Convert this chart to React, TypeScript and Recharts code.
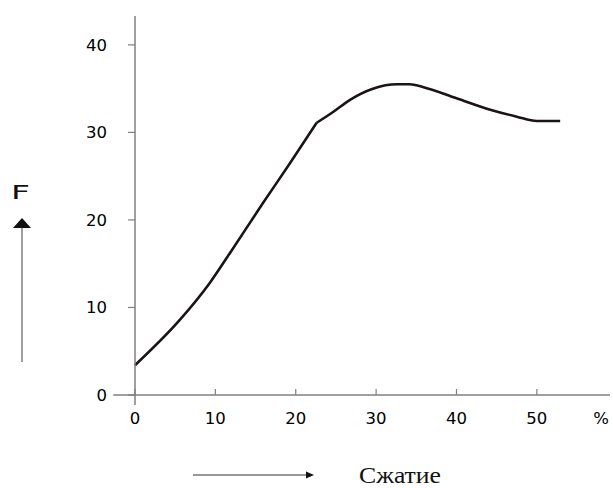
import { LineChart, Line, XAxis, YAxis, ReferenceLine } from 'recharts';

// compression, % (x) and force F (y)
const compression = [0, 5.6, 9.3, 11.8, 15.9, 19.3, 22.6, 24.6, 26.7, 29.6, 32.6, 34.2, 35.8, 40.0, 44.2, 47.5, 50.0, 52.9];
const force = [3.4, 8.6, 12.8, 16.2, 21.9, 26.5, 31.1, 32.3, 33.7, 35.0, 35.5, 35.5, 35.2, 33.9, 32.6, 31.8, 31.3, 31.3];
// the curve has a corner here: rising part and hump are drawn as two pieces
const kinkIndex = 6;

const xTicks = [0, 10, 20, 30, 40, 50, 58];
const xTickLabels = ['0', '10', '20', '30', '40', '50', '%'];
const yTicks = [0, 10, 20, 30, 40];

const xDomain = [0, 59.1];
const yDomain = [0, 43.3];

const data = compression.map((x, i) => ({
  x,
  rise: i <= kinkIndex ? force[i] : null,
  hump: i >= kinkIndex ? force[i] : null,
}));

const AXIS = '#7f7f7f';
const CURVE = '#1a1414';
const FONT = '"DejaVu Sans", sans-serif';

const XTick = ({ x, y, payload }: any) => {
  const label = xTickLabels[xTicks.indexOf(payload.value)] ?? String(payload.value);
  const isUnit = label === '%';
  return (
    <g>
      {!isUnit && <line x1={x} y1={y} x2={x} y2={y - 6} stroke={AXIS} strokeWidth={1.2} />}
      <text x={x} y={y + 29} textAnchor="middle" fontSize={16.5} fontFamily={FONT} fill="#000">
        {label}
      </text>
    </g>
  );
};

export default function App() {
  return (
    <div style={{ position: 'absolute', left: 0, top: 0, width: 613, height: 488, background: '#fff' }}>
      <LineChart
        width={613}
        height={488}
        data={data}
        margin={{ top: 16, right: 3, left: 75, bottom: 63 }}
      >
        <XAxis
          dataKey="x"
          type="number"
          domain={xDomain}
          ticks={xTicks}
          interval={0}
          height={30}
          tickSize={0}
          tickMargin={0}
          axisLine={{ stroke: AXIS, strokeWidth: 1.5 }}
          tickLine={false}
          tick={<XTick />}
        />
        <YAxis
          type="number"
          domain={yDomain}
          ticks={yTicks}
          interval={0}
          width={60}
          tickSize={7}
          tickMargin={21}
          axisLine={{ stroke: AXIS, strokeWidth: 1.5 }}
          tickLine={{ stroke: AXIS, strokeWidth: 1.2 }}
          tick={{ fontSize: 16.5, fontFamily: FONT, fill: '#000' }}
        />
        <ReferenceLine
          segment={[{ x: 0, y: -1.14 }, { x: 0, y: 0 }]}
          stroke={AXIS}
          strokeWidth={1.5}
          ifOverflow="visible"
        />
        <ReferenceLine
          segment={[{ x: -2.7, y: 0 }, { x: 0, y: 0 }]}
          stroke={AXIS}
          strokeWidth={1.5}
          ifOverflow="visible"
        />
        <Line
          type="monotone"
          dataKey="rise"
          stroke={CURVE}
          strokeWidth={2.6}
          dot={false}
          isAnimationActive={false}
        />
        <Line
          type="monotone"
          dataKey="hump"
          stroke={CURVE}
          strokeWidth={2.6}
          dot={false}
          isAnimationActive={false}
        />
      </LineChart>
      <svg
        width={613}
        height={488}
        style={{ position: 'absolute', left: 0, top: 0, pointerEvents: 'none' }}
      >
        <text x={11} y={199} fontSize={19} fontFamily={FONT} fill="#111" textLength={19} lengthAdjust="spacingAndGlyphs">
          F
        </text>
        <line x1={22} y1={226} x2={22} y2={362} stroke={AXIS} strokeWidth={1.5} />
        <polygon points="13,228 31,228 22,218" fill="#111" />
        <line x1={193} y1={475} x2={308} y2={475} stroke="#333" strokeWidth={1.2} />
        <polygon points="306,471.5 314,475 306,478.5" fill="#111" />
        <text
          x={359}
          y={483}
          fontSize={23}
          fontFamily='"Liberation Serif", serif'
          fill="#111"
          textLength={82}
          lengthAdjust="spacingAndGlyphs"
        >
          Сжатие
        </text>
      </svg>
    </div>
  );
}
